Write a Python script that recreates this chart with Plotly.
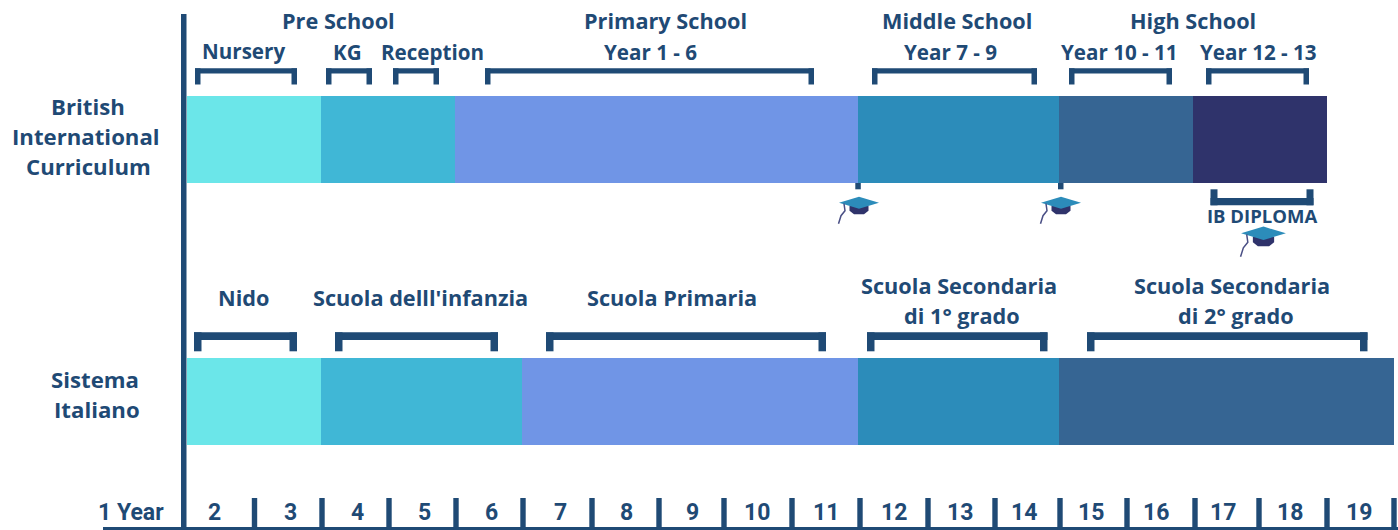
import plotly.graph_objects as go

# ---------- data ----------
stage_colors = ["#6BE6E9", "#40B7D6", "#7095E6", "#2C8CBA", "#366593", "#2F336B"]
british_years = [2, 2, 6, 3, 2, 2]
british_colors = stage_colors
italian_years = [2, 3, 5, 3, 5]
italian_colors = stage_colors[:5]

age_labels = ["2", "3", "4", "5", "6", "7", "8", "9", "10", "11", "12", "13", "14", "15", "16", "17", "18", "19"]
age_label_px = [214, 290.5, 357, 424, 491, 560, 626, 692, 757, 826, 893.5, 960, 1024, 1091, 1156, 1223, 1290, 1359]
tick_px = [254.5, 322, 389, 456, 523, 592, 659, 724, 792, 860, 928, 995, 1060, 1127, 1195, 1259, 1327, 1394]

big_texts = [
    ("Pre School", 338, 20), ("Primary School", 665.3, 20), ("Middle School", 957, 20), ("High School", 1193, 20),
    ("Nido", 243, 297), ("Scuola delll'infanzia", 420.5, 297), ("Scuola Primaria", 672, 297),
    ("Scuola Secondaria", 958.5, 285), ("di 1° grado", 961.5, 315),
    ("Scuola Secondaria", 1232, 285), ("di 2° grado", 1235.5, 315),
]
side_texts = [
    ("British", 87.5, 106), ("International", 85.5, 136), ("Curriculum", 88, 166),
    ("Sistema", 95, 379), ("Italiano", 97, 409),
]
small_texts = [
    ("Nursery", 243, 51), ("KG", 347, 52), ("Reception", 432, 52), ("Year 1 - 6", 650, 52),
    ("Year 7 - 9", 950.5, 52), ("Year 10 - 11", 1119.5, 52), ("Year 12 - 13", 1258.7, 52),
]
top_brackets = [(195, 297), (326, 372), (393, 439), (485, 814), (872, 1037), (1069, 1172), (1206, 1309)]
low_brackets = [(194, 297), (335, 498), (546, 826), (867, 1047.5), (1087, 1367.5)]
cap_centers = [(859, 202.7, 1.0), (1061, 202.7, 1.0), (1263.5, 233.3, 1.12)]

# ---------- helpers ----------
INK = "#1F4A75"
X0, UNIT = 186.8, 67.09
def X(px):
    return (px - X0) / UNIT

fig = go.Figure()

def add_row(years, colors, yc, name):
    start = 0
    for d, c in zip(years, colors):
        fig.add_trace(go.Bar(x=[d], y=[yc], base=[start], width=[87], orientation="h",
                             marker=dict(color=c, line=dict(width=0)), name=name, showlegend=False,
                             hoverinfo="skip"))
        start += d

add_row(british_years, british_colors, 139.5, "British")
add_row(italian_years, italian_colors, 401.5, "Italiano")

shapes = []
def rect(x0, y0, x1, y1, color=INK):
    shapes.append(dict(type="rect", xref="x", yref="y", x0=X(x0), x1=X(x1), y0=y0, y1=y1,
                       fillcolor=color, line=dict(width=0), layer="above"))

def path(points, fill=None, line=None, width=0):
    d = "M " + " L ".join(f"{X(px):.4f},{py:.2f}" for px, py in points)
    if fill:
        d += " Z"
    shapes.append(dict(type="path", xref="x", yref="y", path=d,
                       fillcolor=fill if fill else "rgba(0,0,0,0)",
                       line=dict(color=line if line else "rgba(0,0,0,0)", width=width), layer="above"))

# axes
rect(181, 14, 186.5, 530)
rect(103, 527, 1398, 530)
for t in tick_px:
    rect(t - 2.7, 498, t + 2.7, 530)

# brackets
for l, r in top_brackets:
    rect(l, 68.3, r, 73.5)
    rect(l, 68.3, l + 5.5, 84.5)
    rect(r - 5.5, 68.3, r, 84.5)
for l, r in low_brackets:
    rect(l, 332.3, r, 340)
    rect(l, 332.3, l + 7.5, 351.3)
    rect(r - 7.5, 332.3, r, 351.3)
# IB bracket (opens upward)
rect(1210.5, 198, 1313.5, 205.3)
rect(1210.5, 189.3, 1217.5, 205.3)
rect(1306.5, 189.3, 1313.5, 205.3)
# small ticks below the bar
rect(855.3, 183, 860.8, 189.3)
rect(1058, 183, 1063.5, 189.3)

# graduation caps
for cx, cy, s in cap_centers:
    path([(cx - 9.5 * s, cy + 3 * s), (cx + 9.5 * s, cy + 3 * s), (cx + 9.5 * s, cy + 8 * s),
          (cx + 5 * s, cy + 11.5 * s), (cx - 5 * s, cy + 11.5 * s), (cx - 9.5 * s, cy + 8 * s)], fill="#2F336B")
    path([(cx - 20 * s, cy), (cx, cy - 6 * s), (cx + 20 * s, cy), (cx, cy + 6 * s)], fill="#2C8CBA")
    path([(cx - 15 * s, cy + 1 * s), (cx - 14 * s, cy + 8 * s), (cx - 18 * s, cy + 13 * s), (cx - 20.5 * s, cy + 21 * s)],
         line="#4A4F85", width=1.5)

fig.update_layout(shapes=shapes)

# texts
FONT = dict(family="Open Sans", size=21.7, color=INK, weight=700)
NARROW = dict(family="Roboto", size=23, color=INK, weight=700)
def label(text, px, py, font=FONT):
    fig.add_annotation(x=X(px), y=py, xref="x", yref="y", text=text, showarrow=False, font=font,
                       xanchor="center", yanchor="middle")

for t, px, py in big_texts:
    label(t, px, py)
for t, px, py in side_texts:
    label(t, px, py, dict(FONT, size=22.2))
for t, px, py in small_texts:
    label(t, px, py, dict(FONT, size=20.6))
label("IB DIPLOMA", 1262, 215, dict(FONT, size=18.5))
label("1 Year", 131, 512, NARROW)
for t, px in zip(age_labels, age_label_px):
    label(t, px, 512, NARROW)

fig.update_layout(
    width=1398, height=530, margin=dict(l=0, r=0, t=0, b=0),
    paper_bgcolor="white", plot_bgcolor="white", barmode="overlay", bargap=0,
    xaxis=dict(range=[X(0), X(1398)], visible=False, fixedrange=True),
    yaxis=dict(range=[530, 0], visible=False, fixedrange=True),
    showlegend=False,
)
fig.write_html("out.html", config=dict(displayModeBar=False),
               post_script="document.body.style.margin='0';document.documentElement.style.overflow='hidden';")
